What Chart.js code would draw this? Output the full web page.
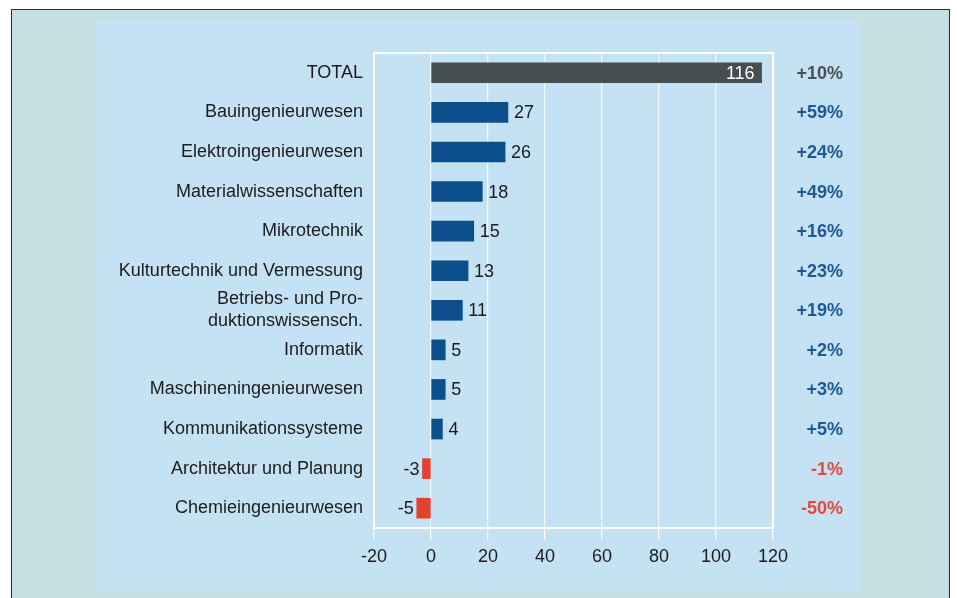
<!DOCTYPE html>
<html>
<head>
<meta charset="utf-8">
<script src="https://cdn.jsdelivr.net/npm/chart.js@4"></script>
<style>
  html, body { margin: 0; padding: 0; background: #ffffff; }
  body { width: 957px; height: 598px; position: relative; overflow: hidden; font-family: "Liberation Sans", Arial, sans-serif; }
  #frame { position: absolute; left: 11px; top: 9px; width: 939px; height: 600px; background: #c6dfe3; border: 1px solid #2e2e2e; box-sizing: border-box; }
  #panel { position: absolute; left: 97px; top: 19px; width: 763px; height: 574px; background: #c5e1f4; }
  #wrap { position: absolute; left: 0; top: 0; width: 957px; height: 598px; }
</style>
</head>
<body>
<div id="frame"></div>
<div id="panel"></div>
<div id="wrap"><canvas id="chart"></canvas></div>
<script>
// Chart data
const categories = [
  'TOTAL',
  'Bauingenieurwesen',
  'Elektroingenieurwesen',
  'Materialwissenschaften',
  'Mikrotechnik',
  'Kulturtechnik und Vermessung',
  ['Betriebs- und Pro-', 'duktionswissensch.'],
  'Informatik',
  'Maschineningenieurwesen',
  'Kommunikationssysteme',
  'Architektur und Planung',
  'Chemieingenieurwesen'
];
const values = [116, 27, 26, 18, 15, 13, 11, 5, 5, 4, -3, -5];
const changes = ['+10%', '+59%', '+24%', '+49%', '+16%', '+23%', '+19%', '+2%', '+3%', '+5%', '-1%', '-50%'];
const xTicks = [-20, 0, 20, 40, 60, 80, 100, 120];

const colors = {
  total: '#464e50',
  pos: '#0b4f8c',
  neg: '#e2432f',
  posText: '#1d5a93',
  negText: '#e04b3a',
  totalText: '#4a4f50',
  text: '#1c1c1c'
};

const FONT = '"Liberation Sans", Arial, sans-serif';

const barColors = values.map((v, i) => i === 0 ? colors.total : (v < 0 ? colors.neg : colors.pos));

// white frame round the plot area
const framePlugin = {
  id: 'frame',
  afterDraw(chart) {
    const a = chart.chartArea;
    const ctx = chart.ctx;
    ctx.save();
    ctx.strokeStyle = '#ffffff';
    ctx.lineWidth = 2;
    ctx.strokeRect(a.left, a.top, a.right - a.left, a.bottom - a.top);
    ctx.restore();
  }
};

// value labels next to bars and change column at the right
const labelPlugin = {
  id: 'labels',
  afterDatasetsDraw(chart) {
    const ctx = chart.ctx;
    const meta = chart.getDatasetMeta(0);
    const yScale = chart.scales.y;
    ctx.save();
    ctx.textBaseline = 'middle';
    meta.data.forEach((bar, i) => {
      const v = values[i];
      ctx.font = '18px ' + FONT;
      if (i === 0) {
        ctx.fillStyle = '#ffffff';
        ctx.textAlign = 'right';
        ctx.fillText(String(v), bar.x - 7, bar.y + 1);
      } else if (v < 0) {
        ctx.fillStyle = colors.text;
        ctx.textAlign = 'right';
        ctx.fillText(String(v), bar.x - 3, bar.y + 1);
      } else {
        ctx.fillStyle = colors.text;
        ctx.textAlign = 'left';
        ctx.fillText(String(v), bar.x + 6, bar.y + 1);
      }
      const c = changes[i];
      ctx.font = 'bold 18px ' + FONT;
      ctx.textAlign = 'right';
      ctx.fillStyle = i === 0 ? colors.totalText : (c.charAt(0) === '-' ? colors.negText : colors.posText);
      ctx.fillText(c, 843, yScale.getPixelForValue(i) + 1);
    });
    ctx.restore();
  }
};

const ctx = document.getElementById('chart');
new Chart(ctx, {
  type: 'bar',
  data: {
    labels: categories,
    datasets: [{
      data: values,
      backgroundColor: barColors,
      borderWidth: 0,
      barThickness: 20
    }]
  },
  options: {
    indexAxis: 'y',
    responsive: true,
    maintainAspectRatio: false,
    animation: false,
    events: [],
    layout: {
      padding: { left: 0, right: 184, top: 53, bottom: 28 }
    },
    plugins: {
      legend: { display: false },
      tooltip: { enabled: false },
      title: { display: false }
    },
    scales: {
      x: {
        type: 'linear',
        min: -20,
        max: 120,
        afterBuildTicks: (scale) => { scale.ticks = xTicks.map(v => ({ value: v })); },
        afterFit: (scale) => { scale.height = 42; },
        grid: {
          color: 'rgba(255,255,255,0.75)',
          lineWidth: 1.3,
          drawTicks: true,
          tickLength: 12,
          tickColor: 'rgba(255,255,255,0.9)'
        },
        border: { display: false },
        ticks: {
          color: colors.text,
          padding: 6,
          font: { family: FONT, size: 18 }
        }
      },
      y: {
        type: 'category',
        offset: true,
        afterFit: (scale) => { scale.width = 374; },
        grid: { display: false, drawTicks: false },
        border: { display: false },
        ticks: {
          color: colors.text,
          padding: 11,
          autoSkip: false,
          font: { family: FONT, size: 18, lineHeight: 1.2 }
        }
      }
    }
  },
  plugins: [framePlugin, labelPlugin]
});
</script>
</body>
</html>
